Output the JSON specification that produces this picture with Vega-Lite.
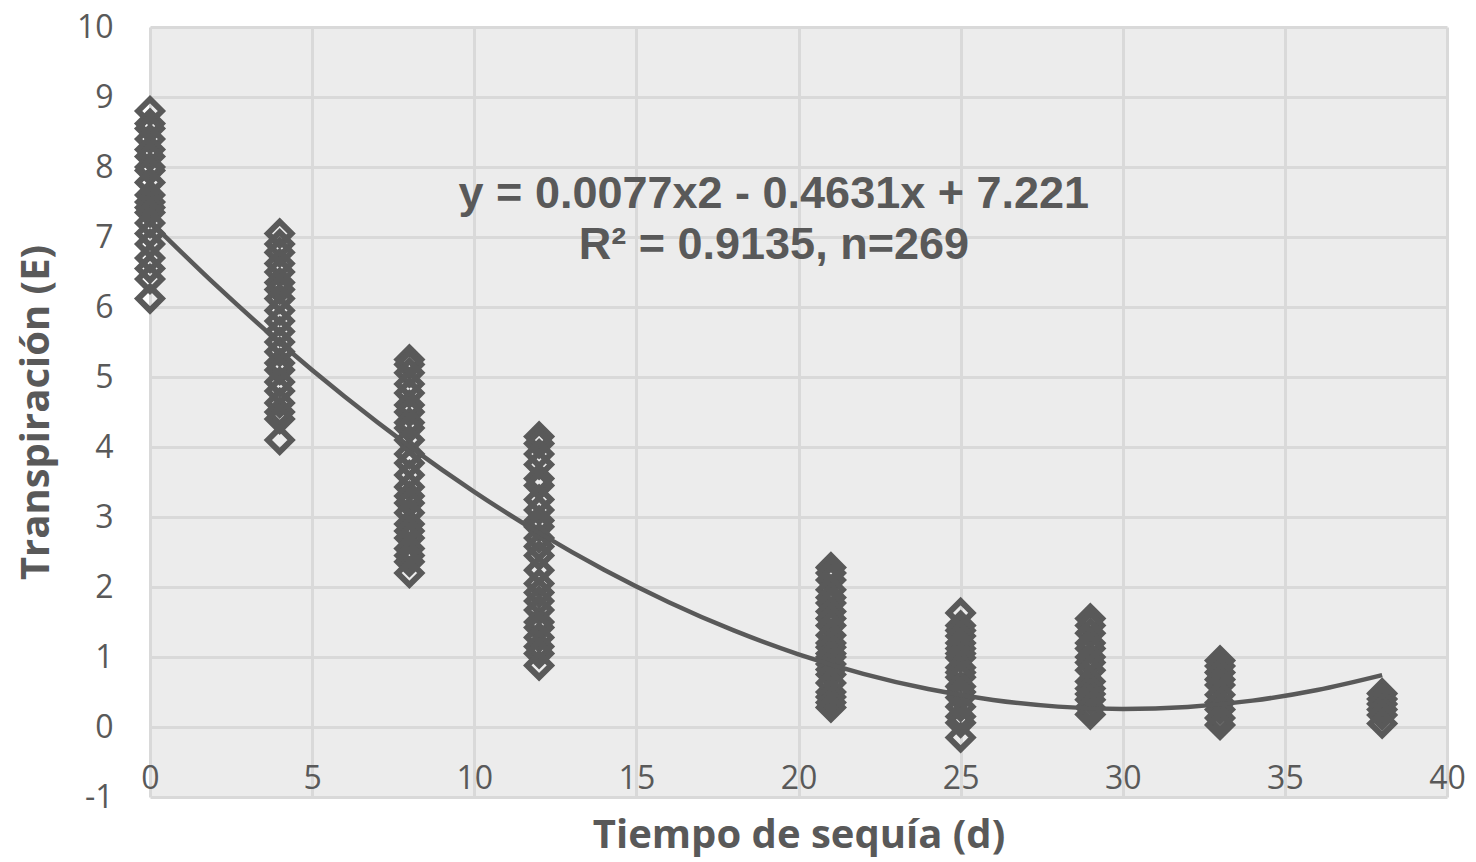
{
  "$schema": "https://vega.github.io/schema/vega-lite/v6.json",
  "width": 1297,
  "height": 770,
  "autosize": {"type": "none"},
  "padding": {"left": 150, "top": 27, "right": 29, "bottom": 65},
  "background": "white",
  "config": {"view": {"fill": "#ececec", "stroke": null}, "font": "Open Sans"},
  "datasets": {
    "points": [
      {"t":0,"E":8.8},{"t":0,"E":8.62},{"t":0,"E":8.55},{"t":0,"E":8.4},{"t":0,"E":8.25},{"t":0,"E":8.15},{"t":0,"E":8.0},{"t":0,"E":7.95},{"t":0,"E":7.78},{"t":0,"E":7.6},{"t":0,"E":7.5},{"t":0,"E":7.42},{"t":0,"E":7.35},{"t":0,"E":7.2},{"t":0,"E":7.05},{"t":0,"E":6.9},{"t":0,"E":6.7},{"t":0,"E":6.55},{"t":0,"E":6.4},{"t":0,"E":6.12},
      {"t":4,"E":7.05},{"t":4,"E":6.9},{"t":4,"E":6.78},{"t":4,"E":6.62},{"t":4,"E":6.5},{"t":4,"E":6.35},{"t":4,"E":6.25},{"t":4,"E":6.12},{"t":4,"E":5.95},{"t":4,"E":5.8},{"t":4,"E":5.65},{"t":4,"E":5.5},{"t":4,"E":5.36},{"t":4,"E":5.2},{"t":4,"E":5.1},{"t":4,"E":4.93},{"t":4,"E":4.8},{"t":4,"E":4.63},{"t":4,"E":4.5},{"t":4,"E":4.4},{"t":4,"E":4.1},
      {"t":8,"E":5.25},{"t":8,"E":5.18},{"t":8,"E":5.06},{"t":8,"E":4.9},{"t":8,"E":4.77},{"t":8,"E":4.6},{"t":8,"E":4.5},{"t":8,"E":4.35},{"t":8,"E":4.27},{"t":8,"E":4.1},{"t":8,"E":3.9},{"t":8,"E":3.77},{"t":8,"E":3.6},{"t":8,"E":3.43},{"t":8,"E":3.3},{"t":8,"E":3.2},{"t":8,"E":3.06},{"t":8,"E":2.9},{"t":8,"E":2.8},{"t":8,"E":2.7},{"t":8,"E":2.55},{"t":8,"E":2.45},{"t":8,"E":2.36},{"t":8,"E":2.2},
      {"t":12,"E":4.15},{"t":12,"E":4.05},{"t":12,"E":3.9},{"t":12,"E":3.75},{"t":12,"E":3.55},{"t":12,"E":3.45},{"t":12,"E":3.25},{"t":12,"E":3.1},{"t":12,"E":2.95},{"t":12,"E":2.86},{"t":12,"E":2.7},{"t":12,"E":2.58},{"t":12,"E":2.45},{"t":12,"E":2.24},{"t":12,"E":2.05},{"t":12,"E":1.92},{"t":12,"E":1.8},{"t":12,"E":1.67},{"t":12,"E":1.5},{"t":12,"E":1.42},{"t":12,"E":1.28},{"t":12,"E":1.15},{"t":12,"E":1.05},{"t":12,"E":0.88},
      {"t":21,"E":2.28},{"t":21,"E":2.2},{"t":21,"E":2.1},{"t":21,"E":1.96},{"t":21,"E":1.85},{"t":21,"E":1.77},{"t":21,"E":1.65},{"t":21,"E":1.55},{"t":21,"E":1.45},{"t":21,"E":1.31},{"t":21,"E":1.2},{"t":21,"E":1.14},{"t":21,"E":1.05},{"t":21,"E":1.0},{"t":21,"E":0.9},{"t":21,"E":0.82},{"t":21,"E":0.75},{"t":21,"E":0.63},{"t":21,"E":0.5},{"t":21,"E":0.43},{"t":21,"E":0.35},{"t":21,"E":0.28},
      {"t":25,"E":1.63},{"t":25,"E":1.45},{"t":25,"E":1.38},{"t":25,"E":1.3},{"t":25,"E":1.2},{"t":25,"E":1.12},{"t":25,"E":1.05},{"t":25,"E":0.99},{"t":25,"E":0.85},{"t":25,"E":0.78},{"t":25,"E":0.71},{"t":25,"E":0.58},{"t":25,"E":0.5},{"t":25,"E":0.42},{"t":25,"E":0.29},{"t":25,"E":0.15},{"t":25,"E":0.06},{"t":25,"E":-0.15},
      {"t":29,"E":1.55},{"t":29,"E":1.45},{"t":29,"E":1.34},{"t":29,"E":1.2},{"t":29,"E":1.12},{"t":29,"E":1.0},{"t":29,"E":0.92},{"t":29,"E":0.81},{"t":29,"E":0.65},{"t":29,"E":0.55},{"t":29,"E":0.47},{"t":29,"E":0.39},{"t":29,"E":0.28},{"t":29,"E":0.18},
      {"t":33,"E":0.95},{"t":33,"E":0.87},{"t":33,"E":0.78},{"t":33,"E":0.68},{"t":33,"E":0.6},{"t":33,"E":0.46},{"t":33,"E":0.35},{"t":33,"E":0.25},{"t":33,"E":0.13},{"t":33,"E":0.03},
      {"t":38,"E":0.48},{"t":38,"E":0.4},{"t":38,"E":0.33},{"t":38,"E":0.25},{"t":38,"E":0.17},{"t":38,"E":0.05}
    ],
    "trend": [
      {"t":0,"E":7.221},{"t":2,"E":6.326},{"t":4,"E":5.492},{"t":6,"E":4.72},{"t":8,"E":4.009},{"t":10,"E":3.36},{"t":12,"E":2.773},{"t":14,"E":2.247},{"t":16,"E":1.783},{"t":18,"E":1.38},{"t":20,"E":1.039},{"t":22,"E":0.76},{"t":24,"E":0.542},{"t":26,"E":0.386},{"t":28,"E":0.291},{"t":30,"E":0.258},{"t":32,"E":0.287},{"t":34,"E":0.377},{"t":36,"E":0.529},{"t":38,"E":0.742}
    ]
  },
  "layer": [
    {
      "data": {"name": "points"},
      "mark": {"type": "point", "shape": "diamond", "filled": false, "size": 560, "strokeWidth": 6, "color": "#595959", "opacity": 1},
      "encoding": {
        "x": {
          "field": "t", "type": "quantitative",
          "scale": {"domain": [0, 40], "nice": false},
          "axis": {
            "values": [0, 5, 10, 15, 20, 25, 30, 35, 40],
            "title": "Tiempo de sequía (d)",
            "domain": false, "ticks": false, "grid": true,
            "gridColor": "#d9d9d9", "gridWidth": 3,
            "labelFont": "Open Sans", "labelFontSize": 32, "labelColor": "#595959",
            "labelPadding": -19, "labelBaseline": "middle", "labelFlush": false, "labelOverlap": false,
            "titleFont": "Open Sans", "titleFontSize": 40, "titleFontWeight": "bold", "titleColor": "#595959",
            "titleY": 38, "titleBaseline": "middle"
          }
        },
        "y": {
          "field": "E", "type": "quantitative",
          "scale": {"domain": [-1, 10], "nice": false},
          "axis": {
            "values": [-1, 0, 1, 2, 3, 4, 5, 6, 7, 8, 9, 10],
            "labelExpr": "'' + datum.value",
            "title": "Transpiración (E)",
            "domain": false, "ticks": false, "grid": true,
            "gridColor": "#d9d9d9", "gridWidth": 3,
            "labelFont": "Open Sans", "labelFontSize": 32, "labelColor": "#595959",
            "labelPadding": 37,
            "titleFont": "Open Sans", "titleFontSize": 40, "titleFontWeight": "bold", "titleColor": "#595959",
            "titleX": -114, "titleY": 385, "titleBaseline": "middle", "titleAngle": -90
          }
        }
      }
    },
    {
      "data": {"name": "trend"},
      "mark": {"type": "line", "color": "#595959", "strokeWidth": 4.5, "interpolate": "monotone"},
      "encoding": {
        "x": {"field": "t", "type": "quantitative"},
        "y": {"field": "E", "type": "quantitative"}
      }
    },
    {
      "data": {"values": [{}]},
      "mark": {
        "type": "text",
        "text": ["y = 0.0077x2 - 0.4631x + 7.221", "R² = 0.9135, n=269"],
        "font": "Liberation Sans", "fontSize": 45, "fontWeight": "bold", "color": "#595959",
        "align": "center", "baseline": "middle", "lineHeight": 51
      },
      "encoding": {
        "x": {"datum": 19.24, "type": "quantitative"},
        "y": {"datum": 7.61, "type": "quantitative"}
      }
    }
  ]
}
